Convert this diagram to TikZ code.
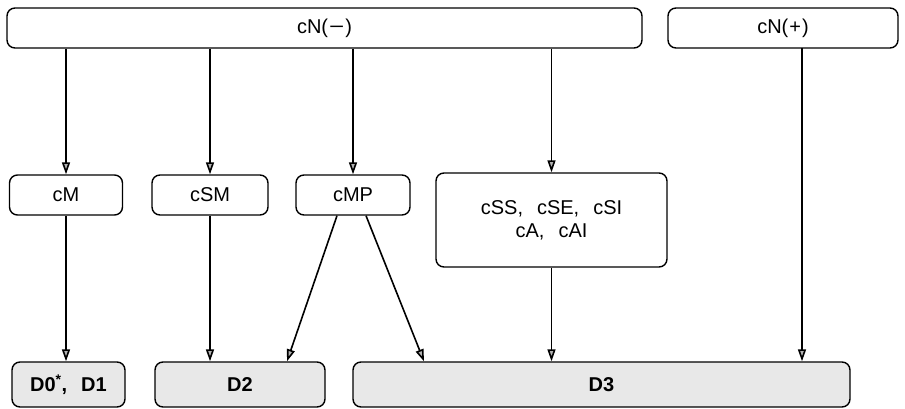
\documentclass[tikz,border=0pt]{standalone}
\usepackage{fontspec}
\setmainfont{Liberation Sans}
\usetikzlibrary{arrows.meta}
\begin{document}
\begin{tikzpicture}[x=1pt,y=-1pt,
  box/.style={draw,line width=1.4pt,rounded corners=8pt,inner sep=0pt,align=center,font=\fontsize{20}{23}\selectfont},
  dbox/.style={box,fill=gray!18,font=\fontsize{20}{23}\selectfont\bfseries},
  conn/.style={line width=1.6pt,-{Triangle[length=12pt,width=8pt,fill=gray!60]}}]
\useasboundingbox (0,0) rectangle (905,409);
\newcommand{\gp}{\hspace{14pt}}
\node[box,minimum width=635pt,minimum height=40pt] (top) at (324.5,28) {cN(\kern1pt\scalebox{1.3}[1]{−}\kern1pt)};
\node[box,minimum width=230pt,minimum height=40pt] (topP) at (783,28) {cN(\kern1pt+\kern1pt)};
\node[box,minimum width=113pt,minimum height=40pt] (cM) at (66,195) {cM};
\node[box,minimum width=116pt,minimum height=40pt] (cSM) at (210,195) {cSM};
\node[box,minimum width=114pt,minimum height=40pt] (cMP) at (353,195) {cMP};
\node[box,minimum width=231pt,minimum height=94pt] (cSS) at (551.5,220) {cSS,\gp cSE,\gp cSI\\cA,\gp cAI};
\node[dbox,minimum width=113pt,minimum height=45pt] (D01) at (68.5,384.5) {D0\textsuperscript{*},\gp D1};
\node[dbox,minimum width=170pt,minimum height=45pt] (D2) at (240,384.5) {D2};
\node[dbox,minimum width=497pt,minimum height=45pt] (D3) at (601.5,384.5) {D3};
\coordinate (pp) at (802,48);
\draw[conn] (top.south -| cM.north) -- (cM.north);
\draw[conn] (top.south -| cSM.north) -- (cSM.north);
\draw[conn] (top.south -| cMP.north) -- (cMP.north);
\draw[conn] (top.south -| cSS.north) -- (cSS.north);
\draw[conn] (cM.south) -- (cM.south |- D01.north);
\draw[conn] (cSM.south) -- (cSM.south |- D2.north);
\draw[conn] (cSS.south) -- (cSS.south |- D3.north);
\draw[conn] (pp) -- (pp |- D3.north);
\draw[conn] ([xshift=-16pt]cMP.south) -- ([xshift=47pt]D2.north);
\draw[conn] ([xshift=13pt]cMP.south) -- ([xshift=-177.5pt]D3.north);
\end{tikzpicture}
\end{document}
